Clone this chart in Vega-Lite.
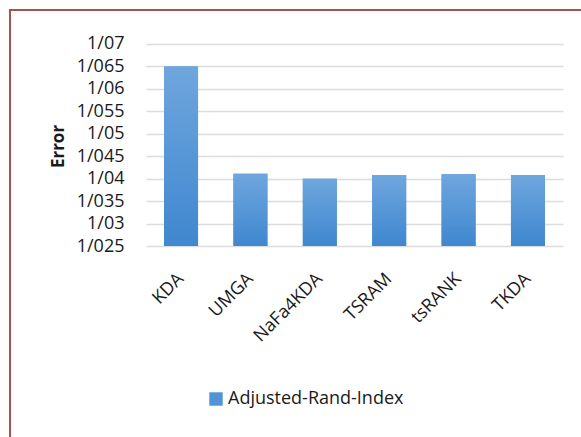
{
  "$schema": "https://vega.github.io/schema/vega-lite/v6.json",
  "width": 575,
  "height": 432,
  "autosize": {"type": "none"},
  "padding": {"left": 10, "top": 10, "right": 0, "bottom": 0},
  "background": "white",
  "view": {"stroke": "#a4524c", "strokeWidth": 2},
  "config": {
    "font": "Open Sans",
    "axis": {"labelColor": "#1a1a1a", "titleColor": "#1a1a1a"},
    "legend": {"labelColor": "#1a1a1a"}
  },
  "data": {
    "values": [
      {"method": "KDA", "error": 1.065, "series": "Adjusted-Rand-Index"},
      {"method": "UMGA", "error": 1.0411, "series": "Adjusted-Rand-Index"},
      {"method": "NaFa4KDA", "error": 1.04, "series": "Adjusted-Rand-Index"},
      {"method": "TSRAM", "error": 1.0408, "series": "Adjusted-Rand-Index"},
      {"method": "tsRANK", "error": 1.041, "series": "Adjusted-Rand-Index"},
      {"method": "TKDA", "error": 1.0408, "series": "Adjusted-Rand-Index"}
    ]
  },
  "encoding": {
    "x": {
      "field": "method",
      "type": "nominal",
      "sort": null,
      "scale": {"range": [136, 553], "paddingInner": 0.51, "paddingOuter": 0.26},
      "axis": {
        "title": null,
        "orient": "bottom",
        "offset": -196,
        "labelAngle": -45,
        "labelAlign": "right",
        "labelBaseline": "middle",
        "labelPadding": 30,
        "labelFontSize": 18,
        "labelLimit": 0,
        "ticks": false,
        "domain": false,
        "grid": false
      }
    },
    "y": {
      "field": "error",
      "type": "quantitative",
      "scale": {"domain": [0.981337, 1.077574], "zero": false, "nice": false},
      "axis": {
        "title": "Error",
        "values": [1.025, 1.03, 1.035, 1.04, 1.045, 1.05, 1.055, 1.06, 1.065, 1.07],
        "labelExpr": "replace(format(datum.value, '.3~f'), '.', '/')",
        "offset": -116,
        "labelPadding": 2,
        "labelFontSize": 18,
        "ticks": false,
        "domain": false,
        "grid": true,
        "gridColor": "#dcdcdc",
        "gridWidth": 1.5,
        "titleFontSize": 17,
        "titleFontWeight": "bold",
        "titleAngle": -90,
        "titleX": -68,
        "titleY": 136,
        "titleAlign": "center",
        "titleBaseline": "middle"
      }
    },
    "y2": {"datum": 1.025}
  },
  "layer": [
    {
      "mark": {"type": "bar"},
      "encoding": {
        "color": {
          "field": "series",
          "type": "nominal",
          "scale": {"range": ["#5293d6"]},
          "legend": {
            "title": null,
            "orient": "none",
            "legendX": 197,
            "legendY": 380,
            "padding": 0,
            "symbolType": "square",
            "symbolSize": 180,
            "symbolStrokeWidth": 0,
            "labelFontSize": 18,
            "labelLimit": 0,
            "labelOffset": 3
          }
        }
      }
    },
    {
      "mark": {
        "type": "bar",
        "color": {
          "gradient": "linear",
          "x1": 0, "y1": 0, "x2": 0, "y2": 1,
          "stops": [
            {"offset": 0, "color": "#6fa6de"},
            {"offset": 1, "color": "#3f87cf"}
          ]
        }
      }
    }
  ]
}
